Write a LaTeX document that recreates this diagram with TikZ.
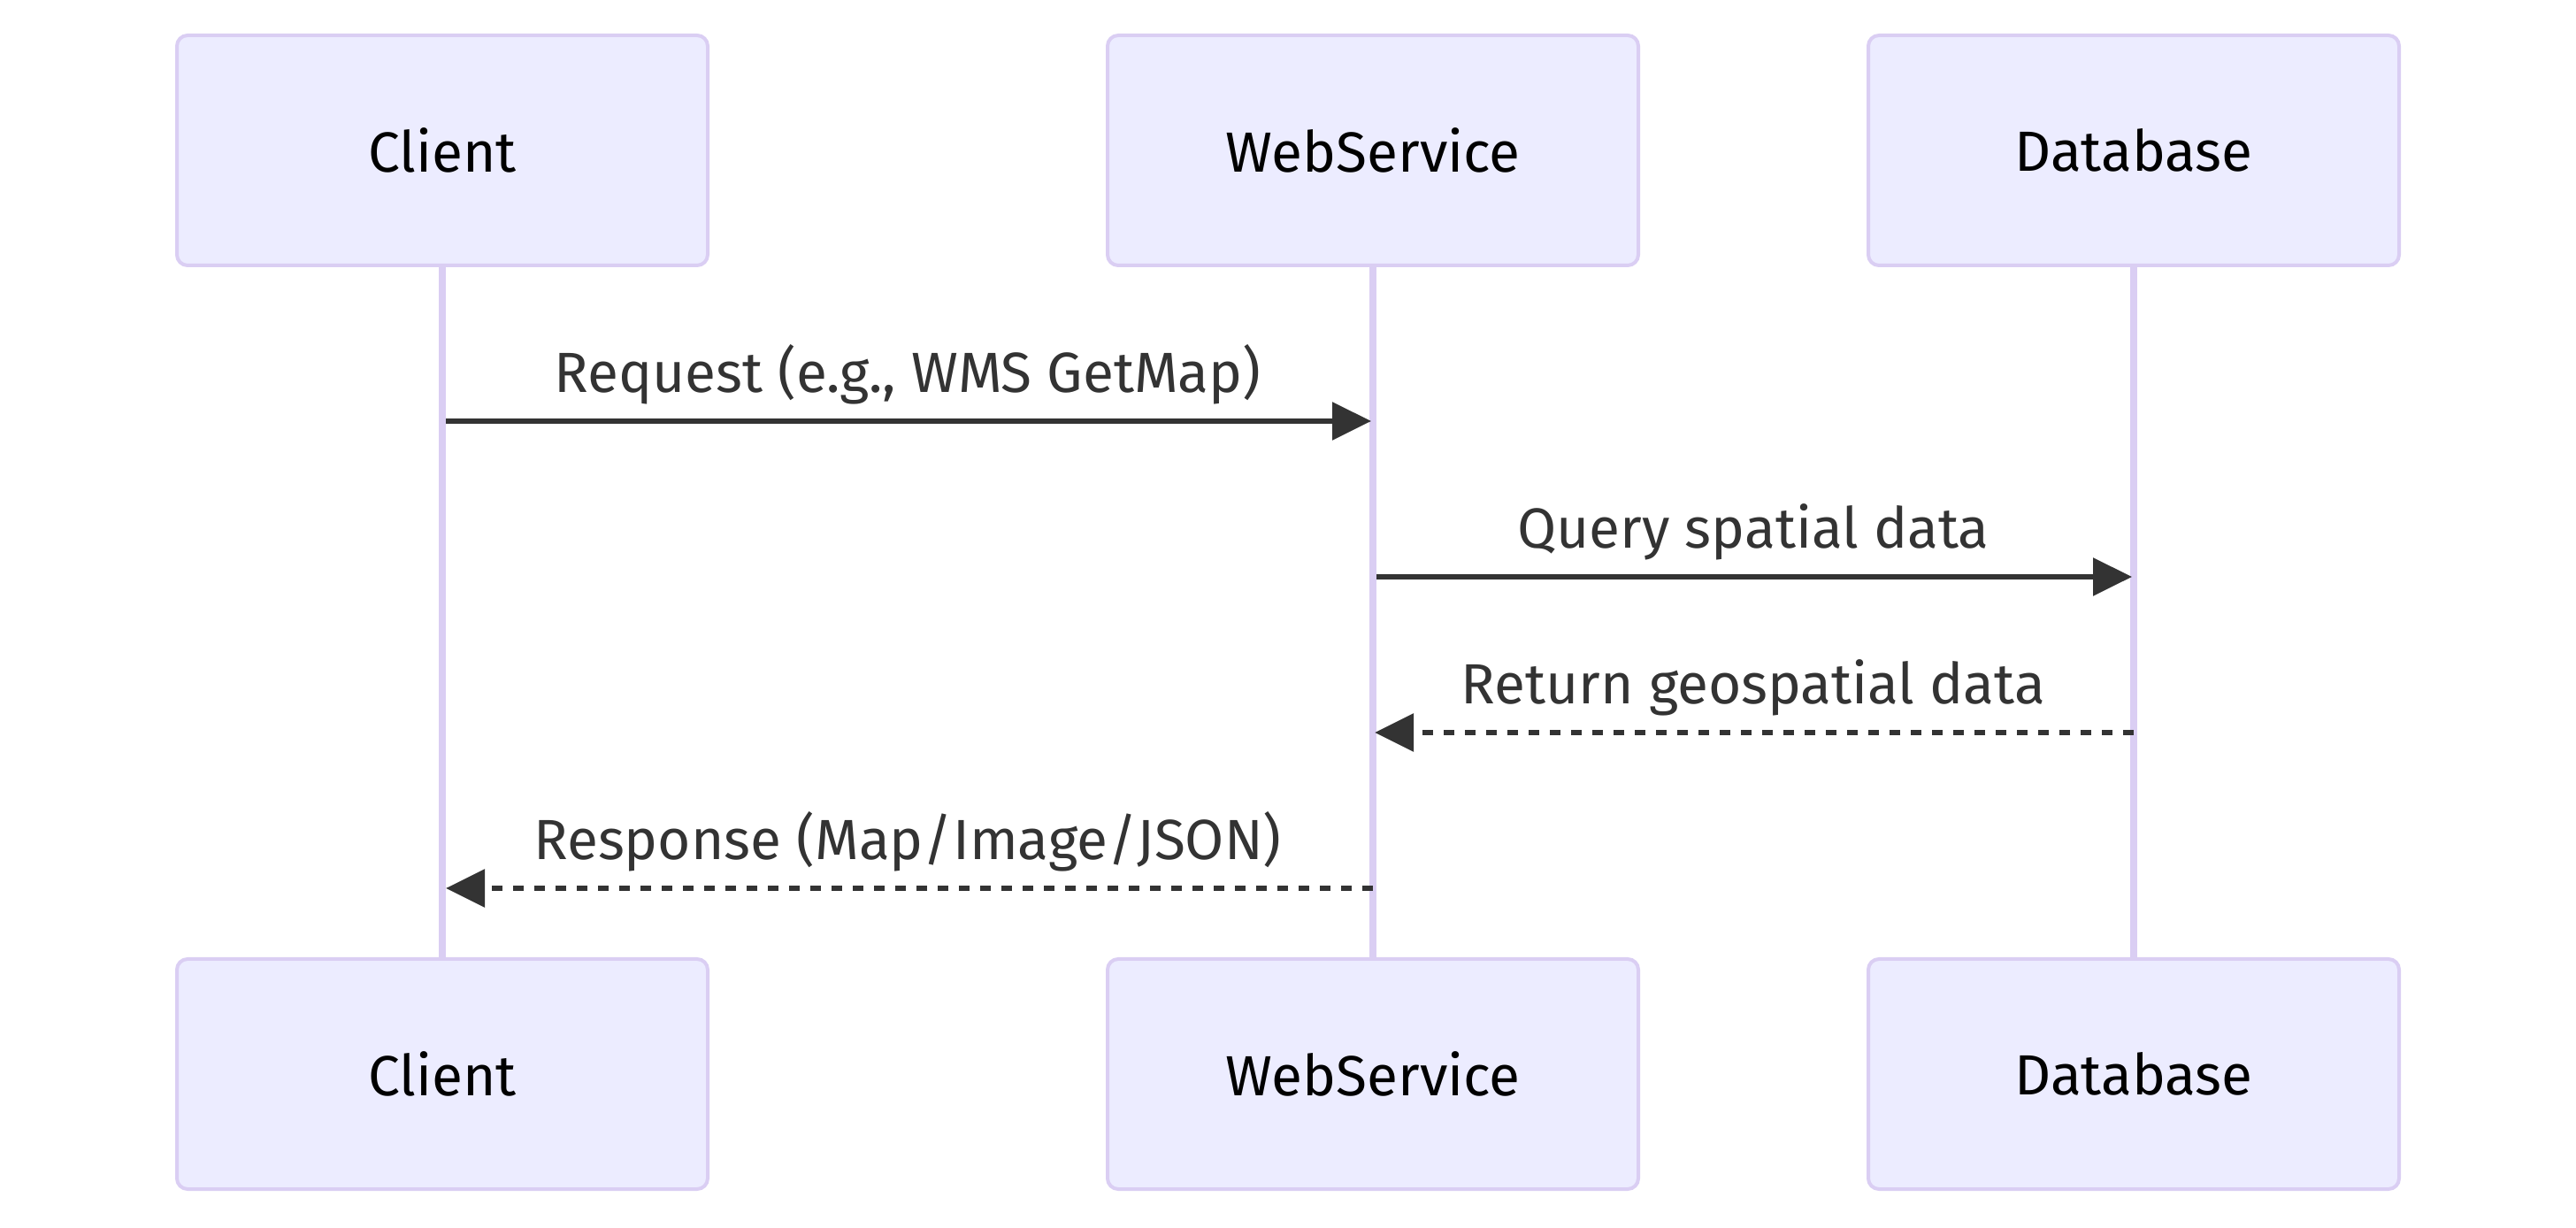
\documentclass[tikz,border=0pt]{standalone}
\usepackage{fontspec}
\setmainfont{Fira Sans}
\usetikzlibrary{arrows.meta}
\definecolor{actfill}{HTML}{ECECFF}
\definecolor{actline}{HTML}{DACEF3}
\definecolor{msgcol}{HTML}{333333}
\tikzset{
  actor/.style={draw=actline, line width=1pt, fill=actfill, rounded corners=3pt,
    minimum width=150pt, minimum height=65pt, inner sep=0pt, font=\fontsize{16pt}{19pt}\selectfont, text=black},
  lifeline/.style={draw=actline, line width=2pt},
  msg/.style={draw=msgcol, line width=1.5pt, -{Triangle[length=11pt,width=10.5pt]}},
  reply/.style={msg, dash pattern=on 3pt off 3pt},
  msglabel/.style={anchor=base, inner sep=0pt, text=msgcol, font=\fontsize{16pt}{19pt}\selectfont}
}
\begin{document}
\begin{tikzpicture}[x=1pt,y=-1pt]
\useasboundingbox (0,0) rectangle (728,347);
% actors top
\node[actor] (ct) at (125,42.5) {Client};
\node[actor] (wt) at (388,42.5) {WebService};
\node[actor] (dt) at (603,42.5) {Database};
% actors bottom
\node[actor] (cb) at (125,303.5) {Client};
\node[actor] (wb) at (388,303.5) {WebService};
\node[actor] (db) at (603,303.5) {Database};
% lifelines
\draw[lifeline] (ct.south) -- (cb.north);
\draw[lifeline] (wt.south) -- (wb.north);
\draw[lifeline] (dt.south) -- (db.north);
% message anchor points
\coordinate (c1) at (126,119);
\coordinate (w1) at (387.5,119);
\coordinate (w2) at (389,163);
\coordinate (d2) at (602.5,163);
\coordinate (d3) at (603,207);
\coordinate (w3) at (388.5,207);
\coordinate (w4) at (388,251);
\coordinate (c4) at (126,251);
% messages
\draw[msg] (c1) -- (w1);
\node[msglabel] (l1) at (256.5,111) {Request (e.g., WMS GetMap)};
\draw[msg] (w2) -- (d2);
\node[msglabel] (l2) at (495.5,155) {Query spatial data};
\draw[reply] (d3) -- (w3);
\node[msglabel] (l3) at (495.5,199) {Return geospatial data};
\draw[reply] (w4) -- (c4);
\node[msglabel] (l4) at (256.5,243) {Response (Map/Image/JSON)};
\end{tikzpicture}
\end{document}
